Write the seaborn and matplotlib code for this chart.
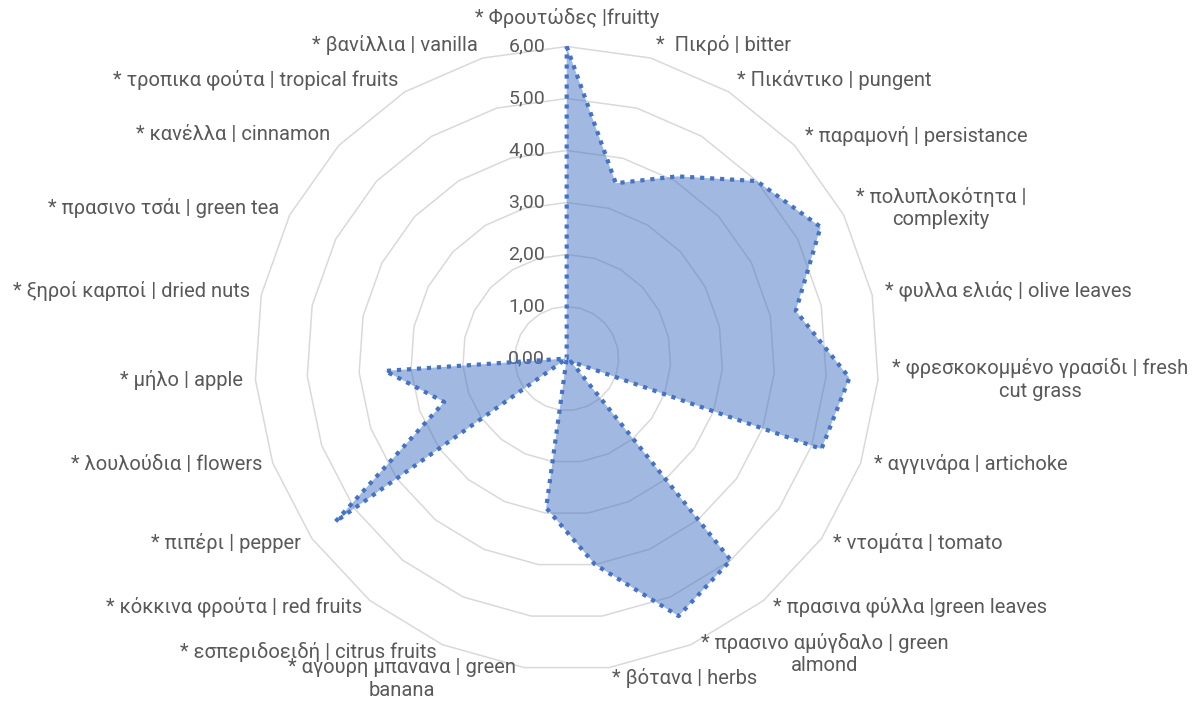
import numpy as np
import pandas as pd
import matplotlib
matplotlib.use('Agg')
import matplotlib.pyplot as plt
import seaborn as sns

# dane - oceny sensoryczne
categories = ['* Φρουτώδες |fruitty', '*  Πικρό | bitter', '* Πικάντικο | pungent',
              '* παραμονή | persistance', '* πολυπλοκότητα |\ncomplexity',
              '* φυλλα ελιάς | olive leaves', '* φρεσκοκομμένο γρασίδι | fresh\ncut grass',
              '* αγγινάρα | artichoke', '* ντομάτα | tomato', '* πρασινα φύλλα |green leaves',
              '* πρασινο αμύγδαλο | green\nalmond', '* βότανα | herbs',
              '* αγουρη μπανανα | green\nbanana', '* εσπεριδοειδή | citrus fruits',
              '* κόκκινα φρούτα | red fruits', '* πιπέρι | pepper', '* λουλούδια | flowers',
              '* μήλο | apple', '* ξηροί καρποί | dried nuts', '* πρασινο τσάι | green tea',
              '* κανέλλα | cinnamon', '* τροπικα φούτα | tropical fruits', '* βανίλλια | vanilla']
scores = [6.0, 3.5, 4.1, 5.0, 5.5, 4.5, 5.45, 5.2, 0.1, 5.0, 5.4, 4.0,
          2.9, 0.0, 0.0, 5.45, 2.5, 3.5, 0.0, 0.0, 0.0, 0.0, 0.0]
ticks = [0, 1, 2, 3, 4, 5, 6]
tick_labels = ['0,00', '1,00', '2,00', '3,00', '4,00', '5,00', '6,00']

# polozenie etykiet kategorii (piksele, x, y, wyrownanie)
label_x = [567, 656, 737, 805, 941, 885, 1040, 874, 833, 773, 825, 612,
           402, 437, 362, 301, 262, 243, 250, 279, 330, 398, 478]
label_y = [18, 45, 80, 136, 208, 291, 379, 464, 543, 607, 654, 678,
           679, 652, 607, 543, 464, 380, 291, 208, 135, 80, 45]
label_ha = ['center', 'left', 'left', 'left', 'center', 'left', 'center', 'left', 'left', 'left',
            'center', 'left', 'center', 'right', 'right', 'right', 'right', 'right', 'right',
            'right', 'right', 'right', 'right']

sns.set_theme(style='white')
plt.rcParams['font.family'] = ['Roboto', 'DejaVu Sans']

W, H = 1196, 701
fig = plt.figure(figsize=(W / 100, H / 100), dpi=100)
cx, cy, R = 566.7, 358.5, 312
ax = fig.add_axes([(cx - R) / W, (H - cy - R) / H, 2 * R / W, 2 * R / H], projection='polar')
ax.set_theta_offset(np.pi / 2)
ax.set_theta_direction(-1)

n = len(categories)
theta = np.linspace(0, 2 * np.pi, n, endpoint=False)
theta_c = np.append(theta, 2 * np.pi)

# siatka wielokatna
for t in ticks[1:]:
    ax.plot(theta_c, [t] * (n + 1), color='#D9D9D9', lw=1.1, zorder=1, clip_on=False)

df = pd.DataFrame({'kat': theta_c, 'ocena': scores + scores[:1]})
ax.fill(df['kat'], df['ocena'], color='#4472C4', alpha=0.5, lw=0, zorder=2, clip_on=False)
sns.lineplot(data=df, x='kat', y='ocena', ax=ax, sort=False, estimator=None,
             color='#4472C4', lw=3.0, linestyle=(0, (1, 1.4)), dash_capstyle='butt',
             zorder=3, clip_on=False)

for t, lab in zip(ticks, tick_labels):
    ax.annotate(lab, xy=(0, t), xytext=(-15.5, 0), textcoords='offset points',
                ha='right', va='center', fontsize=14, color='#595959', zorder=1)

ax.set_ylim(0, 6)
ax.set_xticks([])
ax.set_yticks([])
ax.grid(False)
ax.spines['polar'].set_visible(False)
ax.set_xlabel('')
ax.set_ylabel('')

for lab, x, y, ha in zip(categories, label_x, label_y, label_ha):
    fig.text(x / W, 1 - y / H, lab, ha=ha, va='center', multialignment='center',
             fontsize=14.5, color='#595959', linespacing=1.25)

fig.savefig('out.png', dpi=100)
